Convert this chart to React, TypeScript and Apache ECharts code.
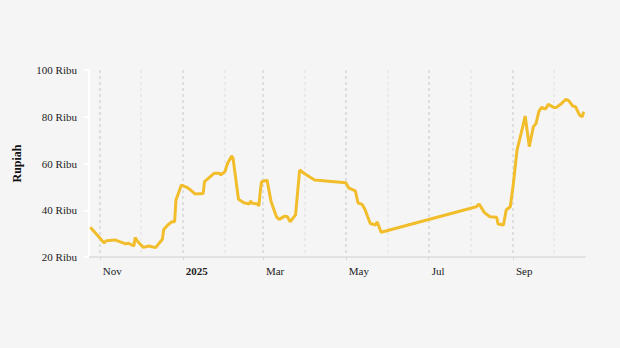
import React, { useEffect, useRef } from "react";
import * as echarts from "echarts";

const dates: string[] = [
  "2024-10-25", "2024-10-30", "2024-11-04", "2024-11-06", "2024-11-12", "2024-11-16",
  "2024-11-20", "2024-11-22", "2024-11-26", "2024-11-27", "2024-11-29", "2024-12-03",
  "2024-12-07", "2024-12-12", "2024-12-17", "2024-12-18", "2024-12-21", "2024-12-24",
  "2024-12-26", "2024-12-27", "2024-12-31", "2025-01-04", "2025-01-06", "2025-01-10",
  "2025-01-16", "2025-01-17", "2025-01-20", "2025-01-24", "2025-01-28", "2025-01-29",
  "2025-02-01", "2025-02-03", "2025-02-06", "2025-02-07", "2025-02-11", "2025-02-15",
  "2025-02-19", "2025-02-20", "2025-02-21", "2025-02-25", "2025-02-26", "2025-02-27",
  "2025-02-28", "2025-03-04", "2025-03-07", "2025-03-10", "2025-03-11", "2025-03-13",
  "2025-03-17", "2025-03-19", "2025-03-21", "2025-03-25", "2025-03-26", "2025-03-28",
  "2025-04-01", "2025-04-08", "2025-05-01", "2025-05-03", "2025-05-08", "2025-05-10",
  "2025-05-13", "2025-05-15", "2025-05-19", "2025-05-23", "2025-05-24", "2025-05-27",
  "2025-08-05", "2025-08-07", "2025-08-11", "2025-08-15", "2025-08-20", "2025-08-21",
  "2025-08-25", "2025-08-27", "2025-08-30", "2025-09-01", "2025-09-04", "2025-09-07",
  "2025-09-10", "2025-09-13", "2025-09-16", "2025-09-18", "2025-09-20", "2025-09-22",
  "2025-09-25", "2025-09-27", "2025-10-01", "2025-10-03", "2025-10-07", "2025-10-10",
  "2025-10-12", "2025-10-15", "2025-10-17", "2025-10-20", "2025-10-22", "2025-10-23",
];

const prices: number[] = [
  32.7, 29.4, 26.1, 27.0, 27.3, 26.5,
  25.6, 25.9, 24.7, 28.3, 26.5, 24.1,
  24.7, 24.0, 27.6, 31.8, 33.7, 35.1,
  35.1, 44.4, 50.8, 49.8, 49.0, 47.0,
  47.2, 52.2, 53.7, 55.8, 55.8, 55.1,
  56.5, 60.1, 63.2, 62.2, 44.7, 43.2,
  42.7, 44.0, 43.0, 42.7, 41.8, 47.9,
  52.2, 52.9, 43.7, 38.7, 37.2, 36.1,
  37.5, 37.2, 35.1, 38.0, 44.4, 57.2,
  55.5, 52.9, 51.8, 49.6, 48.3, 43.1,
  42.5, 40.4, 34.3, 33.7, 35.1, 30.6,
  41.5, 42.7, 39.0, 37.2, 37.0, 34.1,
  33.7, 40.1, 41.5, 50.0, 65.8, 72.9,
  80.3, 67.2, 75.7, 77.2, 82.2, 84.0,
  83.3, 85.3, 84.0, 84.0, 85.8, 87.5,
  86.9, 84.6, 84.3, 80.7, 80.0, 82.2,
];

const labeledMonths: string[] = ["2024-11-01", "2025-01-01", "2025-03-01", "2025-05-01", "2025-07-01", "2025-09-01"];
const otherMonths: string[] = ["2024-12-01", "2025-02-01", "2025-04-01", "2025-06-01", "2025-08-01", "2025-10-01"];
const monthNames: string[] = ["Jan", "Feb", "Mar", "Apr", "May", "Jun", "Jul", "Aug", "Sep", "Oct", "Nov", "Dec"];
const yTicks: number[] = [20, 40, 60, 80, 100];

const axisMin = "2024-10-24";
const axisMax = "2025-10-24";
const FONT = "'Liberation Serif', 'Times New Roman', serif";

const ts = (s: string) => new Date(s + "T00:00:00").getTime();

export default function App() {
  const ref = useRef<HTMLDivElement>(null);
  useEffect(() => {
    if (!ref.current) return;
    const chart = echarts.init(ref.current, undefined, { renderer: "svg" });
    chart.setOption({
      animation: false,
      backgroundColor: "#f5f5f5",
      grid: { left: 89, right: 35, top: 70, bottom: 91, containLabel: false },
      xAxis: [
        {
          type: "value",
          min: ts(axisMin),
          max: ts(axisMax),
          axisLine: { show: true, lineStyle: { color: "#e2e2e2", width: 2 } },
          axisTick: {
            show: true,
            customValues: labeledMonths.map(ts),
            length: 6,
            lineStyle: { color: "#d6d6d6", type: [3, 3] },
          },
          axisLabel: {
            customValues: labeledMonths.map(ts),
            align: "left",
            margin: 8,
            padding: [0, 0, 0, 3],
            fontFamily: FONT,
            fontSize: 11,
            color: "#222",
            formatter: (v: number) => {
              const d = new Date(v);
              if (d.getMonth() === 0) return "{b|" + d.getFullYear() + "}";
              return monthNames[d.getMonth()];
            },
            rich: { b: { fontWeight: "bold", fontFamily: FONT, fontSize: 11, color: "#222" } },
          },
          splitLine: { show: true, lineStyle: { color: "#d6d6d6", type: [3, 3], width: 1.5 } },
        },
        {
          type: "value",
          min: ts(axisMin),
          max: ts(axisMax),
          position: "bottom",
          axisLine: { show: false },
          axisTick: { show: false, customValues: otherMonths.map(ts) },
          axisLabel: { show: false, customValues: otherMonths.map(ts) },
          splitLine: { show: true, lineStyle: { color: "#e6e6e6", type: [3, 3], width: 1.5 } },
        },
      ],
      yAxis: {
        type: "value",
        min: 20,
        max: 100,
        interval: 20,
        name: "Rupiah",
        nameLocation: "middle",
        nameGap: 66,
        nameTextStyle: { fontFamily: FONT, fontWeight: "bold", fontSize: 12, color: "#111" },
        axisLine: { show: true, lineStyle: { color: "#ffffff", width: 2 } },
        axisTick: { show: true, length: 5, lineStyle: { color: "#ffffff", width: 2 } },
        axisLabel: {
          margin: 12,
          fontFamily: FONT,
          fontSize: 11,
          color: "#222",
          formatter: (v: number) => v + " Ribu",
        },
        splitLine: { show: false },
      },
      series: [
        {
          type: "line",
          xAxisIndex: 0,
          data: dates.map((d, i) => [ts(d), prices[i]]),
          showSymbol: false,
          symbol: "none",
          lineStyle: { color: "#f2bd2b", width: 3 },
          itemStyle: { color: "#f2bd2b" },
        },
      ],
    });
    return () => chart.dispose();
  }, []);
  return <div ref={ref} style={{ width: 620, height: 348, position: "fixed", left: 0, top: 0 }} />;
}
